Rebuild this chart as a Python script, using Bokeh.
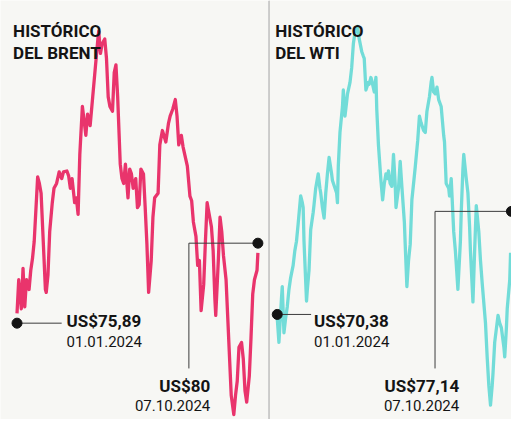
from bokeh.plotting import figure
from bokeh.layouts import row
from bokeh.models import Range1d
from bokeh.embed import file_html
from bokeh.resources import INLINE
from bokeh.core.properties import value

# ---------------- DATA (days since 01.01.2024, price in US$) ----------------
brent_dias = [
    0, 2, 5, 7, 9, 11, 14, 16, 18, 20,
    23, 24, 26, 28, 30, 33, 34, 36, 38, 41,
    43, 46, 49, 52, 54, 58, 60, 62, 64, 67,
    69, 71, 73, 76, 78, 80, 82, 85, 88, 91,
    94, 95, 97, 99, 102, 104, 106, 108, 111, 113,
    115, 117, 120, 122, 124, 126, 129, 131, 133, 135,
    138, 140, 142, 144, 147, 149, 151, 153, 156, 158,
    160, 164, 166, 169, 173, 176, 178, 181, 184, 186,
    188, 191, 193, 195, 198, 201, 203, 205, 208, 210,
    212, 214, 217, 219, 221, 223, 226, 228, 230, 231,
    234, 236, 238, 240, 243, 245, 247, 249, 252, 254,
    256, 258, 261, 263, 265, 267, 270, 272, 274, 276,
    279, 280,
]
brent_precios = [
    76.39, 78.12, 76.63, 78.71, 76.73, 78.12, 77.62, 78.61, 79.21, 80.10,
    82.57, 83.41, 83.07, 82.57, 80.59, 77.62, 77.47, 78.37, 80.59, 82.08,
    82.82, 83.07, 83.66, 83.32, 83.66, 83.71, 83.46, 82.82, 83.32, 82.08,
    82.33, 81.48, 84.55, 87.03, 86.29, 85.54, 86.63, 86.04, 87.52, 89.01,
    90.49, 90.89, 89.75, 90.25, 90.49, 89.50, 87.52, 87.03, 86.78, 88.76,
    89.16, 87.52, 84.06, 83.32, 83.07, 84.06, 82.33, 83.81, 83.56, 82.82,
    83.32, 81.83, 81.98, 83.81, 83.56, 81.83, 79.95, 77.47, 79.11, 81.34,
    82.33, 82.57, 85.05, 85.79, 85.20, 86.14, 86.53, 86.88, 87.38, 86.53,
    85.05, 85.54, 84.95, 84.55, 83.96, 82.42, 82.18, 81.09, 80.35, 78.86,
    79.11, 76.53, 77.87, 80.10, 82.08, 81.58, 80.84, 79.60, 77.13, 76.29,
    79.11, 81.34, 80.59, 79.36, 78.12, 76.14, 74.16, 72.18, 71.19, 72.18,
    72.92, 74.65, 74.90, 74.06, 72.42, 71.83, 73.17, 75.15, 77.38, 78.12,
    78.61, 79.50,
]

wti_dias = [
    0, 2, 5, 6, 8, 10, 12, 14, 16, 19,
    21, 23, 25, 28, 30, 31, 32, 35, 36, 38,
    40, 43, 44, 46, 49, 51, 52, 54, 56, 58,
    60, 62, 65, 66, 68, 71, 72, 73, 75, 78,
    79, 81, 83, 84, 87, 89, 91, 93, 95, 96,
    98, 101, 103, 104, 106, 109, 110, 112, 113, 116,
    118, 119, 121, 124, 126, 128, 130, 132, 133, 135,
    137, 139, 141, 142, 145, 147, 149, 152, 153, 155,
    157, 159, 161, 163, 165, 168, 170, 172, 175, 177,
    179, 182, 184, 185, 187, 189, 191, 193, 196, 197,
    199, 200, 202, 205, 206, 208, 211, 213, 214, 216,
    219, 220, 222, 223, 226, 228, 230, 231, 234, 236,
    238, 241, 243, 245, 249, 251, 253, 255, 257, 258,
    260, 264, 266, 268, 271, 272, 274, 275, 278, 279,
]
wti_precios = [
    70.13, 68.55, 71.39, 72.21, 69.18, 70.13, 70.89, 72.02, 72.78, 73.60,
    74.55, 75.18, 76.32, 78.15, 77.71, 77.39, 75.18, 71.26, 72.02, 73.29,
    75.94, 77.08, 77.58, 78.66, 79.60, 78.66, 78.34, 77.39, 76.70, 78.34,
    79.60, 80.68, 79.60, 79.16, 78.84, 78.34, 77.71, 80.11, 82.32, 84.02,
    85.10, 83.39, 84.34, 84.85, 85.60, 86.55, 88.13, 88.89, 89.08, 89.27,
    88.45, 87.63, 87.31, 87.18, 85.10, 85.60, 85.48, 85.92, 85.73, 84.97,
    85.92, 83.83, 81.50, 79.16, 77.90, 78.97, 79.60, 79.29, 79.79, 78.97,
    78.78, 80.87, 78.97, 77.39, 78.66, 80.42, 78.78, 76.44, 74.99, 72.21,
    73.92, 74.99, 77.90, 78.97, 80.04, 81.81, 83.39, 82.95, 82.45, 82.32,
    83.71, 84.66, 85.60, 85.92, 84.97, 84.85, 85.29, 84.47, 84.02, 83.39,
    82.13, 81.69, 78.97, 78.66, 78.15, 79.29, 75.81, 74.55, 73.73, 72.02,
    75.18, 77.08, 79.92, 80.87, 79.29, 78.34, 76.13, 74.55, 71.20, 74.55,
    77.52, 75.81, 73.92, 72.46, 69.81, 67.60, 65.71, 64.44, 65.71, 66.53,
    68.55, 70.32, 69.81, 69.50, 68.23, 67.60, 69.50, 70.76, 72.65, 74.42,
]

titulos = [["HISTÓRICO", "DEL BRENT"], ["HISTÓRICO", "DEL WTI"]]
fechas_dias = [0, 280]
fechas_txt = ["01.01.2024", "07.10.2024"]
brent_marcas = [75.89, 80.0]
brent_marcas_txt = ["US$75,89", "US$80"]
wti_marcas = [70.38, 77.14]
wti_marcas_txt = ["US$70,38", "US$77,14"]

# ---------------- STYLE / LAYOUT ----------------
PAPER = "#f7f7f4"
INK = "#141414"
RULE = "#3c3c3c"
FONT = "Roboto"
BRENT_COLOR = "#e9346c"
WTI_COLOR = "#72dcd8"
FIG_H = 419
REF_H = 435

# panel geometry in reference-layout units
left = dict(L=0, W=276, FW=268, xs=-19.19, xe=292.33, ys=70.94, ye=92.47)
right = dict(L=277, W=250, FW=242, xs=-9.26, xe=280.1, ys=63.49, ye=90.97)


def px_x(g, rx):
    return g["xs"] + (rx - g["L"]) / g["W"] * (g["xe"] - g["xs"])


def px_y(g, ry):
    return g["ye"] - ry / REF_H * (g["ye"] - g["ys"])


def make_panel(g, border_left):
    p = figure(width=g["FW"] + border_left, height=FIG_H, output_backend="svg",
               toolbar_location=None,
               x_range=Range1d(g["xs"], g["xe"]), y_range=Range1d(g["ys"], g["ye"]),
               x_axis_location=None, y_axis_location=None,
               min_border_left=border_left, min_border_right=0,
               min_border_top=0, min_border_bottom=0,
               background_fill_color=PAPER,
               border_fill_color=RULE if border_left else PAPER)
    p.grid.visible = False
    p.outline_line_color = None
    return p


def txt(p, x, y, s, size, bold, align):
    p.text(x=[x], y=[y], text=[s], text_font=value(FONT),
           text_font_style="bold" if bold else "normal",
           text_font_size=size, text_color=INK, text_align=align,
           text_baseline="alphabetic")


def build(g, border, dias, precios, color, marcas, marcas_txt, titulo, lay):
    p = make_panel(g, border)
    p.line(dias, precios, line_color=color, line_width=3.3, line_join="round")
    # titles
    txt(p, px_x(g, lay["tx"]), px_y(g, 32), titulo[0], "17px", True, "left")
    txt(p, px_x(g, lay["tx"]), px_y(g, 55), titulo[1], "17px", True, "left")
    # first-date connector
    d0, d1 = fechas_dias
    p.line([d0, px_x(g, lay["c0"])], [marcas[0], marcas[0]], line_color=RULE, line_width=1)
    txt(p, px_x(g, lay["l0"]), px_y(g, lay["b0"]), marcas_txt[0], "17px", True, "left")
    txt(p, px_x(g, lay["l0"]), px_y(g, lay["b0"] + 21), fechas_txt[0], "15px", False, "left")
    # last-date connector
    cx = px_x(g, lay["c1"])
    p.line([d1, cx, cx], [marcas[1], marcas[1], px_y(g, 382)], line_color=RULE, line_width=1)
    txt(p, px_x(g, lay["l1"]), px_y(g, 400), marcas_txt[1], "17px", True, "right")
    txt(p, px_x(g, lay["l1"]), px_y(g, 420), fechas_txt[1], "15px", False, "right")
    p.scatter(fechas_dias, marcas, size=10, color=INK)
    return p


p1 = build(left, 0, brent_dias, brent_precios, BRENT_COLOR, brent_marcas, brent_marcas_txt,
           titulos[0], dict(tx=13, c0=63, l0=68, b0=333, c1=194, l1=216))
p2 = build(right, 1, wti_dias, wti_precios, WTI_COLOR, wti_marcas, wti_marcas_txt,
           titulos[1], dict(tx=283, c0=320, l0=323, b0=333, c1=448, l1=473))

layout = row(p1, p2)
open("out.html", "w").write(file_html(layout, INLINE))
